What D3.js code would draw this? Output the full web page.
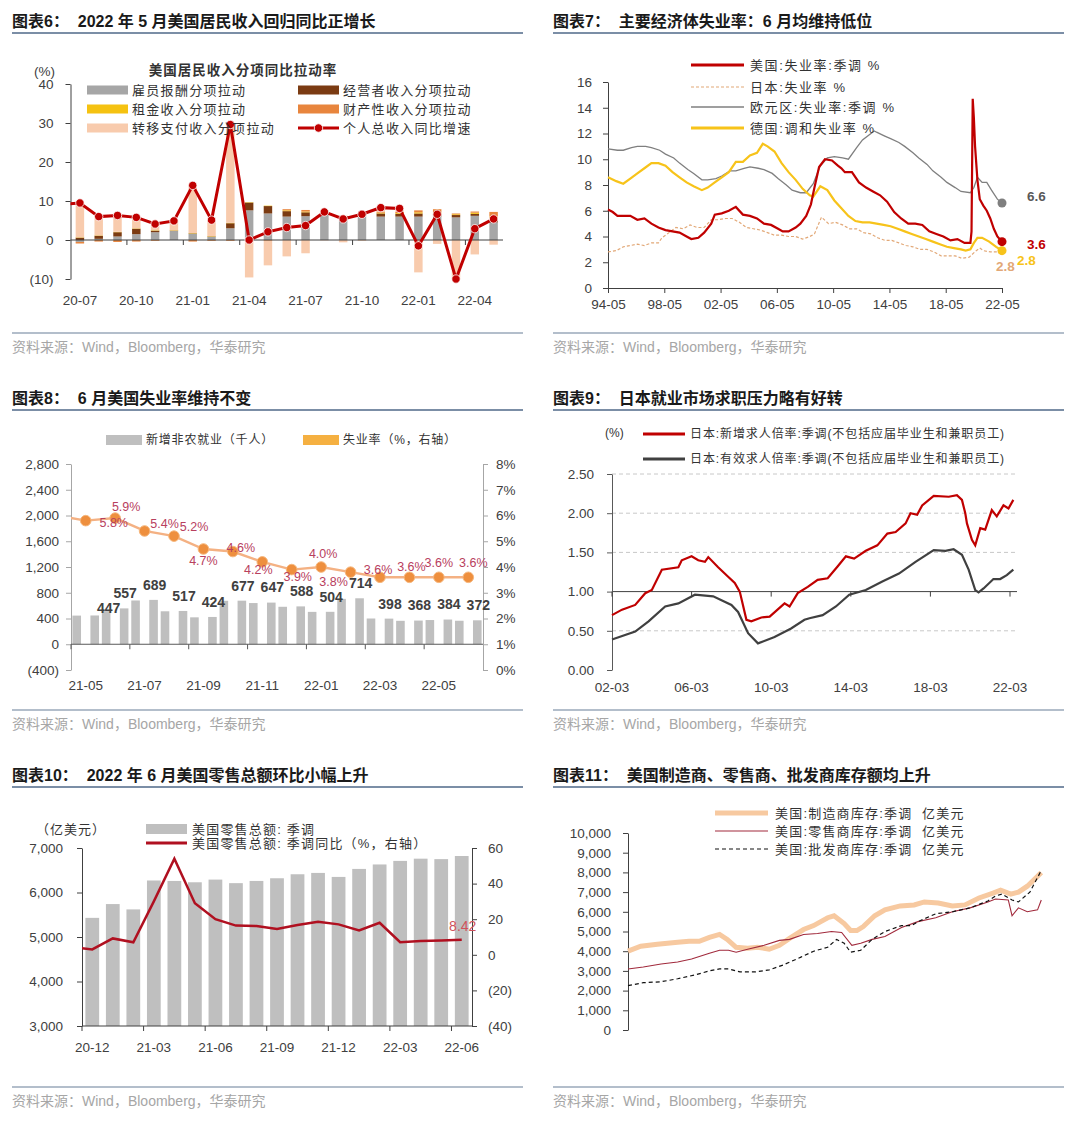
<!DOCTYPE html>
<html>
<head>
<meta charset="utf-8">
<title>华泰研究 图表6-11</title>
<script src="https://d3js.org/d3.v7.min.js"></script>
<style>
  body { margin: 0; background: #ffffff; }
  svg text { font-family: "Liberation Sans", Arial, "Noto Sans CJK SC", sans-serif; }
</style>
</head>
<body>
<svg id="page" width="1080" height="1123"></svg>
<script>
// ---------- 图表6 data ----------
var incMonths = ["20-07","20-08","20-09","20-10","20-11","20-12","21-01","21-02","21-03","21-04","21-05","21-06",
                 "21-07","21-08","21-09","21-10","21-11","21-12","22-01","22-02","22-03","22-04","22-05"];
var incComp     = [-0.5, 0.3, 0.9, 1.5, 2.0, 2.3, 1.6, 0.8, 3.0, 7.6, 6.8, 6.0, 6.1, 6.7, 5.7, 6.3, 6.0, 6.0, 6.0, 6.0, 5.8, 6.2, 4.5];
var incProp     = [0.6, 0.8, 1.1, 1.4, 0.4, 0.1, 0.1, 0.1, 1.3, 2.0, 1.9, 1.4, 1.0, 0.3, 0.3, 0.3, 0.8, 0.7, 0.8, 0.8, 0.6, 0.5, 1.0];
var incRent     = [0.1, 0.1, 0.1, 0.1, 0.1, 0.1, 0.1, 0.1, 0.1, 0.1, 0.1, 0.2, 0.2, 0.1, 0.1, 0.1, 0.2, 0.2, 0.3, 0.3, 0.2, 0.3, 0.5];
var incAsset    = [-0.4, -0.4, -0.5, -0.4, -0.2, 0.0, -0.4, -0.2, -0.2, -0.3, -0.2, 0.3, 0.4, 0.2, 0.1, 0.2, 0.3, 0.3, 0.5, 0.8, 0.2, 0.3, 1.2];
var incTransfer = [9.0, 4.8, 4.5, 3.1, 1.8, 2.4, 12.5, 4.3, 25.4, -9.3, -6.3, -4.2, -3.4, -0.1, -0.6, -0.2, 0.9, 0.8, -8.3, -1.0, -17.0, -3.7, -1.2];
var incTotal    = [9.5, 6.0, 6.3, 5.8, 4.1, 4.9, 14.0, 5.1, 29.6, 0.0, 2.1, 3.2, 3.7, 7.2, 5.4, 6.6, 8.3, 8.1, -1.5, 6.6, -10.0, 2.9, 5.4];
var incTotalLeadIn = 9.1;   // 20-06, only its segment into the chart is visible

// ---------- 图表7 data ----------
var usRate = [["1994-05",6.1],["1994-09",5.9],["1995-01",5.6],["1995-06",5.6],["1995-12",5.6],["1996-06",5.3],["1996-12",5.4],
  ["1997-06",5.0],["1997-12",4.7],["1998-06",4.5],["1998-12",4.4],["1999-06",4.3],["1999-12",4.0],["2000-04",3.8],["2000-10",3.9],
  ["2001-03",4.3],["2001-09",5.0],["2001-12",5.7],["2002-06",5.8],["2002-12",6.0],["2003-06",6.3],["2003-12",5.7],["2004-06",5.6],
  ["2004-12",5.4],["2005-06",5.0],["2005-12",4.9],["2006-06",4.6],["2006-10",4.4],["2007-03",4.4],["2007-09",4.7],["2008-01",5.0],
  ["2008-06",5.6],["2008-10",6.5],["2009-01",7.8],["2009-05",9.4],["2009-10",10.0],["2010-04",9.9],["2010-09",9.5],["2010-12",9.3],
  ["2011-03",9.0],["2011-09",9.0],["2012-03",8.2],["2012-09",7.8],["2013-03",7.5],["2013-09",7.2],["2014-03",6.7],["2014-09",5.9],
  ["2015-03",5.4],["2015-09",5.0],["2016-03",5.0],["2016-09",4.9],["2017-03",4.4],["2017-09",4.2],["2018-03",4.0],["2018-09",3.7],
  ["2019-03",3.8],["2019-09",3.5],["2020-02",3.5],["2020-03",4.4],["2020-04",14.7],["2020-05",13.2],["2020-06",11.0],["2020-08",8.4],
  ["2020-10",6.9],["2021-01",6.4],["2021-04",6.0],["2021-07",5.4],["2021-10",4.6],["2022-01",4.0],["2022-05",3.6]];
var jpRate = [["1994-05",2.8],["1994-12",2.9],["1995-06",3.2],["1995-12",3.3],["1996-06",3.4],["1996-12",3.3],["1997-06",3.5],
  ["1997-12",3.5],["1998-03",3.9],["1998-09",4.3],["1999-03",4.7],["1999-09",4.6],["2000-03",4.9],["2000-09",4.7],["2001-03",4.7],
  ["2001-09",5.3],["2002-03",5.3],["2002-09",5.4],["2003-03",5.4],["2003-09",5.1],["2004-03",4.7],["2004-09",4.6],["2005-03",4.5],
  ["2005-09",4.3],["2006-03",4.1],["2006-09",4.1],["2007-03",4.0],["2007-09",4.0],["2008-03",3.8],["2008-09",4.0],["2009-01",4.2],
  ["2009-07",5.5],["2010-01",5.0],["2010-07",5.1],["2011-01",4.9],["2011-07",4.6],["2012-01",4.6],["2012-07",4.3],["2013-01",4.2],
  ["2013-07",3.9],["2014-01",3.7],["2014-07",3.7],["2015-01",3.5],["2015-07",3.3],["2016-01",3.2],["2016-07",3.0],["2017-01",3.0],
  ["2017-07",2.8],["2018-01",2.5],["2018-07",2.5],["2019-01",2.5],["2019-07",2.3],["2020-01",2.4],["2020-07",2.9],["2020-10",3.1],
  ["2021-01",2.9],["2021-07",2.8],["2022-01",2.8],["2022-05",2.6]];
var euroRate = [["1994-05",10.8],["1995-01",10.7],["1995-06",10.7],["1996-01",10.9],["1996-06",11.0],["1997-01",11.0],["1997-06",10.9],
  ["1998-01",10.7],["1998-06",10.4],["1999-01",10.1],["1999-06",9.7],["2000-01",9.2],["2000-06",8.9],["2001-01",8.4],["2001-06",8.4],
  ["2002-01",8.5],["2002-06",8.7],["2003-01",9.1],["2003-06",9.1],["2004-01",9.3],["2004-06",9.4],["2005-01",9.3],["2005-06",9.2],
  ["2006-01",8.9],["2006-06",8.5],["2007-01",8.0],["2007-06",7.6],["2008-01",7.4],["2008-06",7.4],["2008-12",8.1],["2009-06",9.5],
  ["2009-12",10.1],["2010-06",10.2],["2011-01",10.1],["2011-06",10.0],["2012-01",10.9],["2012-06",11.5],["2013-04",12.2],["2013-06",12.1],
  ["2014-01",11.8],["2014-06",11.6],["2015-01",11.3],["2015-06",11.0],["2016-01",10.5],["2016-06",10.1],["2017-01",9.6],["2017-06",9.1],
  ["2018-01",8.6],["2018-06",8.2],["2019-01",7.8],["2019-06",7.5],["2020-02",7.4],["2020-05",7.8],["2020-08",8.6],["2020-12",8.2],
  ["2021-04",8.2],["2021-08",7.6],["2022-01",6.9],["2022-05",6.6]];
var deRate = [["1994-05",8.6],["1994-12",8.3],["1995-06",8.1],["1995-12",8.5],["1996-06",8.9],["1996-12",9.3],["1997-06",9.7],
  ["1997-12",9.7],["1998-06",9.5],["1998-12",9.0],["1999-06",8.6],["1999-12",8.2],["2000-06",7.9],["2001-01",7.6],["2001-06",7.8],
  ["2001-12",8.2],["2002-06",8.6],["2002-12",9.0],["2003-06",9.8],["2003-12",9.8],["2004-06",10.3],["2004-12",10.5],["2005-05",11.2],
  ["2005-09",11.0],["2006-03",10.6],["2006-09",9.7],["2007-03",9.0],["2007-09",8.4],["2008-03",7.7],["2008-09",7.2],["2008-12",7.1],
  ["2009-06",7.9],["2009-12",7.6],["2010-06",6.8],["2010-12",6.2],["2011-06",5.6],["2011-12",5.2],["2012-06",5.1],["2012-12",5.1],
  ["2013-06",5.0],["2013-12",4.9],["2014-06",4.8],["2014-12",4.6],["2015-06",4.4],["2015-12",4.2],["2016-06",4.0],["2016-12",3.8],
  ["2017-06",3.6],["2017-12",3.4],["2018-06",3.2],["2018-12",3.1],["2019-06",3.0],["2019-10",2.9],["2020-02",3.0],["2020-05",3.5],
  ["2020-08",3.9],["2020-12",3.9],["2021-06",3.6],["2021-12",3.2],["2022-05",2.9]];
var rateTicks = ["1994-05","1998-05","2002-05","2006-05","2010-05","2014-05","2018-05","2022-05"];

// ---------- 图表8 data ----------
var nfpMonths = ["21-05","21-06","21-07","21-08","21-09","21-10","21-11","21-12","22-01","22-02","22-03","22-04","22-05","22-06"];
var nfpPrior  = [445, 515, 680, 512, 418, 675, 640, 582, 503, 705, 400, 364, 376, 365];
var nfpLatest = [447, 557, 689, 517, 424, 677, 647, 588, 504, 714, 398, 368, 384, 372];
var unemp     = [5.8, 5.9, 5.4, 5.2, 4.7, 4.6, 4.2, 3.9, 4.0, 3.8, 3.6, 3.6, 3.6, 3.6];
var unempLeadIn = 6.0;   // 21-04

// ---------- 图表9 data ----------
var jpNewRatio = [["2002-03",0.70],["2002-09",0.77],["2003-05",0.83],["2003-11",0.98],["2004-03",1.02],["2004-09",1.28],["2005-07",1.31],
  ["2005-09",1.40],["2006-03",1.45],["2006-07",1.40],["2006-11",1.38],["2007-01",1.44],["2007-07",1.31],["2008-01",1.19],["2008-05",1.11],
  ["2008-08",1.00],["2008-12",0.64],["2009-03",0.62],["2009-09",0.67],["2010-02",0.68],["2010-11",0.85],["2011-02",0.81],["2011-07",0.98],
  ["2012-01",1.06],["2012-07",1.15],["2013-01",1.17],["2013-07",1.32],["2013-12",1.45],["2014-05",1.42],["2014-12",1.52],["2015-07",1.59],
  ["2016-01",1.74],["2016-06",1.76],["2016-12",1.87],["2017-03",2.00],["2017-07",1.98],["2017-10",2.10],["2018-05",2.22],["2019-02",2.21],
  ["2019-07",2.23],["2019-10",2.17],["2019-12",2.00],["2020-01",1.87],["2020-04",1.66],["2020-06",1.59],["2020-09",1.81],["2020-12",1.79],
  ["2021-04",2.04],["2021-07",1.96],["2021-11",2.10],["2022-02",2.06],["2022-05",2.17]];
var jpEffRatio = [["2002-03",0.39],["2003-05",0.49],["2004-01",0.62],["2004-11",0.81],["2005-07",0.85],["2006-05",0.96],["2007-04",0.94],
  ["2008-03",0.83],["2008-07",0.74],["2009-01",0.47],["2009-07",0.34],["2010-05",0.42],["2011-03",0.53],["2011-11",0.64],["2012-02",0.66],
  ["2012-10",0.70],["2013-06",0.81],["2014-02",0.96],["2014-12",1.02],["2015-10",1.13],["2016-08",1.23],["2017-06",1.38],["2018-05",1.53],
  ["2018-12",1.52],["2019-05",1.54],["2019-10",1.47],["2020-02",1.28],["2020-06",1.02],["2020-08",0.99],["2020-11",1.04],["2021-05",1.16],
  ["2021-09",1.16],["2022-01",1.21],["2022-05",1.28]];
var jpTicks = ["2002-03","2006-03","2010-03","2014-03","2018-03","2022-03"];

// ---------- 图表10 data ----------
var retailMonths = ["20-12","21-01","21-02","21-03","21-04","21-05","21-06","21-07","21-08","21-09","21-10","21-11","21-12",
                    "22-01","22-02","22-03","22-04","22-05","22-06"];
var retailSales = [5430, 5740, 5620, 6270, 6260, 6230, 6290, 6210, 6260, 6320, 6410, 6440, 6350, 6530, 6630, 6710, 6760, 6750, 6820];
var retailYoY   = [3.0, 9.2, 7.0, 30.0, 54.0, 29.0, 20.0, 16.4, 16.2, 14.5, 16.7, 18.6, 17.1, 13.7, 18.0, 7.1, 7.7, 8.1, 8.42];
var retailYoYLeadIn = 4.3;   // 20-11

// ---------- 图表11 data ----------
var invManu = [["1995-03",4000],["1996-01",4250],["1997-02",4350],["1998-06",4450],["1999-03",4500],["1999-11",4500],["2000-07",4700],
  ["2001-03",4850],["2001-09",4600],["2002-04",4200],["2003-01",4150],["2003-09",4200],["2004-06",4100],["2005-02",4300],["2005-10",4650],
  ["2006-09",5100],["2007-05",5300],["2008-04",5700],["2008-09",5800],["2009-05",5400],["2009-10",5050],["2010-03",5050],["2010-08",5250],
  ["2011-05",5800],["2012-01",6100],["2013-01",6300],["2013-12",6350],["2014-08",6500],["2015-07",6450],["2016-06",6300],["2017-04",6350],
  ["2018-03",6700],["2019-02",6950],["2019-08",7100],["2020-04",6900],["2020-10",7000],["2021-05",7300],["2022-01",7800],["2022-04",8000]];
var invRetail = [["1995-03",3100],["1996-03",3200],["1997-05",3350],["1998-06",3450],["1999-05",3600],["2000-07",3900],["2001-03",4050],
  ["2001-10",4050],["2002-04",3950],["2003-01",4100],["2004-02",4300],["2005-02",4550],["2005-10",4600],["2006-09",4850],["2007-08",4900],
  ["2008-07",5000],["2009-03",4950],["2009-11",4300],["2010-06",4400],["2011-03",4600],["2012-01",4750],["2013-02",5200],["2014-03",5500],
  ["2015-05",5700],["2016-06",6000],["2017-08",6200],["2018-10",6500],["2019-04",6650],["2020-02",6600],["2020-05",5800],["2020-10",6200],
  ["2021-05",6000],["2022-01",6100],["2022-04",6600]];
var invWhole = [["1995-03",2250],["1996-03",2400],["1997-05",2450],["1998-06",2600],["1999-08",2800],["2000-07",3000],["2001-03",3100],
  ["2001-10",3100],["2002-07",2950],["2003-07",2950],["2004-06",3050],["2005-05",3300],["2006-07",3700],["2007-05",4000],["2008-04",4200],
  ["2008-11",4600],["2009-05",4400],["2009-10",3950],["2010-06",4050],["2011-03",4600],["2012-01",5000],["2013-02",5300],["2013-10",5300],
  ["2014-03",5500],["2015-05",5900],["2016-06",6000],["2017-08",6200],["2018-10",6550],["2019-04",6800],["2019-09",6900],["2020-05",6600],
  ["2020-10",6500],["2021-07",7000],["2022-04",8100]];
var invTicks = ["1995-03","1998-03","2001-03","2004-03","2007-03","2010-03","2013-03","2016-03","2019-03","2022-03"];

// ---------- helpers ----------
var svg = d3.select("#page");
var CJK = "'Noto Sans CJK SC', sans-serif";
var parseYM = d3.timeParse("%Y-%m");
var fmtYM = d3.timeFormat("%y-%m");
var fmtComma = d3.format(",");
function paren(v) { return v < 0 ? "(" + fmtComma(-v) + ")" : fmtComma(v); }
function toSeries(arr) { return arr.map(function (d) { return {date: parseYM(d[0]), value: d[1]}; }); }

function frame(x0, y0, title) {
  svg.append("text").attr("x", x0).attr("y", y0 + 27).attr("font-size", 16).attr("font-weight", 700)
    .attr("fill", "#1a1a1a").style("white-space", "pre").attr("font-family", CJK).text(title);
  svg.append("line").attr("x1", x0).attr("x2", x0 + 511).attr("y1", y0 + 33).attr("y2", y0 + 33)
    .attr("stroke", "#7b8ea6").attr("stroke-width", 2);
  svg.append("line").attr("x1", x0).attr("x2", x0 + 511).attr("y1", y0 + 333).attr("y2", y0 + 333)
    .attr("stroke", "#9aa8ba").attr("stroke-width", 1.5);
  svg.append("text").attr("x", x0).attr("y", y0 + 352).attr("font-size", 14).attr("fill", "#a6a6a6")
    .attr("font-family", CJK).text("资料来源：Wind，Bloomberg，华泰研究");
}

function styleAxis(g, color) {
  g.attr("font-family", null).attr("font-size", null);
  g.select(".domain").attr("stroke", color);
  g.selectAll(".tick line").attr("stroke", color);
  g.selectAll(".tick text").attr("fill", "#404040").attr("font-size", 13.5);
}

function legendText(x, y, txt, size, spacing) {
  svg.append("text").attr("x", x).attr("y", y).attr("dy", "0.35em").attr("font-size", size || 13)
    .attr("letter-spacing", spacing || 1).attr("fill", "#333").attr("font-family", CJK)
    .style("white-space", "pre").text(txt);
}

function clipRect(id, x, y, w, h) {
  svg.append("clipPath").attr("id", id).append("rect").attr("x", x).attr("y", y).attr("width", w).attr("height", h);
  return "url(#" + id + ")";
}

// ================= 图表6 =================
frame(12, 0, "图表6：  2022 年 5 月美国居民收入回归同比正增长");
(function () {
  var x = d3.scaleBand().domain(incMonths).range([70.5, 503]).paddingInner(0.55).paddingOuter(0.275);
  var y = d3.scaleLinear().domain([-10, 40]).range([279, 84]);
  var step = x.step();
  var cx = function (m) { return x(m) + x.bandwidth() / 2; };

  var keys = ["comp", "prop", "rent", "asset", "transfer"];
  var colors = {comp: "#a6a6a6", prop: "#7b3b12", rent: "#f5c211", asset: "#e8853d", transfer: "#f8cbad"};
  var rows = incMonths.map(function (m, i) {
    return {month: m, comp: incComp[i], prop: incProp[i], rent: incRent[i], asset: incAsset[i], transfer: incTransfer[i]};
  });
  var stacked = d3.stack().keys(keys).offset(d3.stackOffsetDiverging)(rows);
  var clip = clipRect("clip6", 70.5, 84, 433, 195);

  var gb = svg.append("g").attr("clip-path", clip);
  stacked.forEach(function (layer) {
    gb.selectAll(null).data(layer).enter().append("rect")
      .attr("x", function (d) { return x(d.data.month); })
      .attr("width", x.bandwidth())
      .attr("y", function (d) { return y(Math.max(d[0], d[1])); })
      .attr("height", function (d) { return Math.abs(y(d[0]) - y(d[1])); })
      .attr("fill", colors[layer.key]);
  });

  // axes
  var ga = svg.append("g").attr("transform", "translate(70.5,0)")
    .call(d3.axisLeft(y).tickValues([-10, 0, 10, 20, 30, 40]).tickSize(5).tickSizeOuter(0).tickPadding(12).tickFormat(paren));
  styleAxis(ga, "#404040");
  svg.append("line").attr("x1", 70.5).attr("x2", 503).attr("y1", y(0)).attr("y2", y(0)).attr("stroke", "#404040");
  incMonths.forEach(function (m, i) {
    if (i % 3 !== 0) return;
    if (i > 0) svg.append("line").attr("x1", x(m) - (step - x.bandwidth()) / 2).attr("x2", x(m) - (step - x.bandwidth()) / 2)
      .attr("y1", y(0)).attr("y2", y(0) + 5).attr("stroke", "#404040");
    svg.append("text").attr("x", cx(m)).attr("y", 305).attr("text-anchor", "middle").attr("font-size", 13.5)
      .attr("fill", "#404040").text(m);
  });

  // total line
  var pts = [{x: cx(incMonths[0]) - step, v: incTotalLeadIn}].concat(incMonths.map(function (m, i) { return {x: cx(m), v: incTotal[i]}; }));
  svg.append("path").attr("clip-path", clip).datum(pts)
    .attr("d", d3.line().x(function (d) { return d.x; }).y(function (d) { return y(d.v); }))
    .attr("fill", "none").attr("stroke", "#c00000").attr("stroke-width", 3);
  svg.selectAll(null).data(pts.slice(1)).enter().append("circle")
    .attr("cx", function (d) { return d.x; }).attr("cy", function (d) { return y(d.v); })
    .attr("r", 4.2).attr("fill", "#c00000").attr("stroke", "#fff").attr("stroke-width", 0.8);

  // legend
  svg.append("text").attr("x", 243).attr("y", 75).attr("text-anchor", "middle").attr("font-size", 13.5)
    .attr("font-weight", 700).attr("letter-spacing", 1).attr("fill", "#333").attr("font-family", CJK).text("美国居民收入分项同比拉动率");
  svg.append("text").attr("x", 34).attr("y", 76).attr("font-size", 13.5).attr("fill", "#404040").text("(%)");
  var leg = [
    {k: "comp", t: "雇员报酬分项拉动", x: 87, y: 90}, {k: "prop", t: "经营者收入分项拉动", x: 298, y: 90},
    {k: "rent", t: "租金收入分项拉动", x: 87, y: 109}, {k: "asset", t: "财产性收入分项拉动", x: 298, y: 109},
    {k: "transfer", t: "转移支付收入分项拉动", x: 87, y: 128}
  ];
  leg.forEach(function (d) {
    svg.append("rect").attr("x", d.x).attr("y", d.y - 4.5).attr("width", 41).attr("height", 9).attr("fill", colors[d.k]);
    legendText(d.x + 45, d.y, d.t, 13, 1.3);
  });
  svg.append("line").attr("x1", 298).attr("x2", 339).attr("y1", 128).attr("y2", 128).attr("stroke", "#c00000").attr("stroke-width", 3);
  svg.append("circle").attr("cx", 318.5).attr("cy", 128).attr("r", 4.2).attr("fill", "#c00000").attr("stroke", "#fff").attr("stroke-width", 0.8);
  legendText(343, 128, "个人总收入同比增速", 13, 1.3);
})();

// ================= 图表7 =================
frame(553, 0, "图表7：  主要经济体失业率：6 月均维持低位");
(function () {
  var x = d3.scaleTime().domain([parseYM("1994-05"), parseYM("2022-05")]).range([608, 1002]);
  var y = d3.scaleLinear().domain([0, 16]).range([288, 82]);
  var line = d3.line().x(function (d) { return x(d.date); }).y(function (d) { return y(d.value); });

  var ga = svg.append("g").attr("transform", "translate(608,0)")
    .call(d3.axisLeft(y).tickValues(d3.range(0, 17, 2)).tickSize(5).tickSizeOuter(0).tickPadding(11));
  styleAxis(ga, "#404040");
  var gx = svg.append("g").attr("transform", "translate(0,288)")
    .call(d3.axisBottom(x).tickValues(rateTicks.map(parseYM)).tickFormat(fmtYM).tickSize(5).tickSizeOuter(0).tickPadding(6));
  styleAxis(gx, "#404040");

  var jp = toSeries(jpRate), eu = toSeries(euroRate), de = toSeries(deRate), us = toSeries(usRate);
  svg.append("path").datum(jp).attr("d", line).attr("fill", "none").attr("stroke", "#e2a877").attr("stroke-width", 1.2).attr("stroke-dasharray", "3,2");
  svg.append("path").datum(eu).attr("d", line).attr("fill", "none").attr("stroke", "#7f7f7f").attr("stroke-width", 1.3);
  svg.append("path").datum(de).attr("d", line).attr("fill", "none").attr("stroke", "#f7c31a").attr("stroke-width", 2.2);
  svg.append("path").datum(us).attr("d", line).attr("fill", "none").attr("stroke", "#c00000").attr("stroke-width", 2.2);

  var ends = [
    {s: eu, c: "#7f7f7f", lx: 1027, ly: 196, t: "6.6"},
    {s: us, c: "#c00000", lx: 1027, ly: 244, t: "3.6"},
    {s: de, c: "#f7c31a", lx: null}
  ];
  ends.forEach(function (e) {
    var last = e.s[e.s.length - 1];
    svg.append("circle").attr("cx", x(last.date)).attr("cy", y(last.value)).attr("r", 4.5).attr("fill", e.c);
    if (e.lx) svg.append("text").attr("x", e.lx).attr("y", e.ly).attr("dy", "0.35em").attr("font-size", 13.5)
      .attr("font-weight", 700).attr("fill", e.c === "#7f7f7f" ? "#595959" : e.c).text(e.t);
  });
  svg.append("text").attr("x", 996).attr("y", 266).attr("dy", "0.35em").attr("font-size", 13.5).attr("font-weight", 700).attr("fill", "#e2a877").text("2.8");
  svg.append("text").attr("x", 1017).attr("y", 260).attr("dy", "0.35em").attr("font-size", 13.5).attr("font-weight", 700).attr("fill", "#f7c31a").text("2.8");

  var leg = [
    {t: "美国:失业率:季调 %", c: "#c00000", w: 3, dash: null, y: 65},
    {t: "日本:失业率 %", c: "#e2a877", w: 1.2, dash: "3,2", y: 87},
    {t: "欧元区:失业率:季调 %", c: "#7f7f7f", w: 1.3, dash: null, y: 107},
    {t: "德国:调和失业率 %", c: "#f7c31a", w: 3, dash: null, y: 128}
  ];
  leg.forEach(function (d) {
    svg.append("line").attr("x1", 691).attr("x2", 744).attr("y1", d.y).attr("y2", d.y).attr("stroke", d.c)
      .attr("stroke-width", d.w).attr("stroke-dasharray", d.dash);
    legendText(750, d.y, d.t, 13, 1.6);
  });
})();

// ================= 图表8 =================
frame(12, 377, "图表8：  6 月美国失业率维持不变");
(function () {
  var x = d3.scaleBand().domain(nfpMonths).range([71, 483]);
  var step = x.step();
  var cx = function (m) { return x(m) + step / 2; };
  var yL = d3.scaleLinear().domain([-400, 2800]).range([670, 464]);
  var yR = d3.scaleLinear().domain([0, 0.08]).range([670, 464]);
  var bw = 8.6, off = 9;

  var gl = svg.append("g").attr("transform", "translate(71,0)")
    .call(d3.axisLeft(yL).tickValues(d3.range(-400, 2801, 400)).tickSize(5).tickSizeOuter(0).tickPadding(7).tickFormat(paren));
  styleAxis(gl, "#a6a6a6");
  var gr = svg.append("g").attr("transform", "translate(483,0)")
    .call(d3.axisRight(yR).tickValues(d3.range(0, 0.081, 0.01)).tickSize(5).tickSizeOuter(0).tickPadding(8).tickFormat(d3.format(".0%")));
  styleAxis(gr, "#a6a6a6");

  svg.selectAll(null).data(nfpMonths).enter().append("rect")
    .attr("x", function (m) { return cx(m) - off - bw / 2; }).attr("width", bw)
    .attr("y", function (m, i) { return yL(nfpPrior[i]); })
    .attr("height", function (m, i) { return yL(0) - yL(nfpPrior[i]); }).attr("fill", "#bfbfbf");
  svg.selectAll(null).data(nfpMonths).enter().append("rect")
    .attr("x", function (m) { return cx(m) + off - bw / 2; }).attr("width", bw)
    .attr("y", function (m, i) { return yL(nfpLatest[i]); })
    .attr("height", function (m, i) { return yL(0) - yL(nfpLatest[i]); }).attr("fill", "#bfbfbf");

  svg.append("line").attr("x1", 71).attr("x2", 483).attr("y1", yL(0)).attr("y2", yL(0)).attr("stroke", "#595959");
  nfpMonths.forEach(function (m, i) {
    if (i % 2 !== 0) return;
    svg.append("line").attr("x1", x(m)).attr("x2", x(m)).attr("y1", yL(0)).attr("y2", yL(0) + 5).attr("stroke", "#595959");
    svg.append("text").attr("x", cx(m)).attr("y", 690).attr("text-anchor", "middle").attr("font-size", 13.5).attr("fill", "#404040").text(m);
  });

  // unemployment line
  var clip = clipRect("clip8", 71, 464, 412, 206);
  var pts = [{x: cx(nfpMonths[0]) - step, v: unempLeadIn}].concat(nfpMonths.map(function (m, i) { return {x: cx(m), v: unemp[i]}; }));
  svg.append("path").attr("clip-path", clip).datum(pts)
    .attr("d", d3.line().x(function (d) { return d.x; }).y(function (d) { return yR(d.v / 100); }))
    .attr("fill", "none").attr("stroke", "#f4b183").attr("stroke-width", 2.4);
  svg.selectAll(null).data(pts.slice(1)).enter().append("circle")
    .attr("cx", function (d) { return d.x; }).attr("cy", function (d) { return yR(d.v / 100); })
    .attr("r", 5.3).attr("fill", "#ee8f3e").attr("stroke", "#f6b77d").attr("stroke-width", 1);

  // labels (offsets keep the crowded 21-11 .. 22-02 labels apart)
  var pctOff = [[28, 2], [11, -11], [20, -7], [20, -9], [0, 12], [8, -4], [-4, 8], [6, 7], [2, -13], [-17, 9], [-2, -8], [2, -11], [0, -15], [5, -15]];
  nfpMonths.forEach(function (m, i) {
    svg.append("text").attr("x", cx(m) + pctOff[i][0]).attr("y", yR(unemp[i] / 100) + pctOff[i][1]).attr("dy", "0.35em")
      .attr("text-anchor", "middle").attr("font-size", 12.5).attr("fill", "#b8405e").text(unemp[i].toFixed(1) + "%");
  });
  nfpMonths.forEach(function (m, i) {
    var dx = i === 0 ? 23 : 10, dy = i === 0 ? -7 : -15;
    svg.append("text").attr("x", cx(m) + dx).attr("y", yL(nfpLatest[i]) + dy).attr("dy", "0.35em")
      .attr("text-anchor", "middle").attr("font-size", 14).attr("font-weight", 700).attr("fill", "#404040").text(nfpLatest[i]);
  });

  // legend
  svg.append("rect").attr("x", 106).attr("y", 435).attr("width", 36).attr("height", 10).attr("fill", "#bfbfbf");
  legendText(146, 440, "新增非农就业（千人）", 12, 0.8);
  svg.append("rect").attr("x", 303).attr("y", 435).attr("width", 36).attr("height", 10).attr("fill", "#f5b041");
  legendText(343, 440, "失业率（%，右轴）", 12, 0.8);
})();

// ================= 图表9 =================
frame(553, 377, "图表9：  日本就业市场求职压力略有好转");
(function () {
  var x = d3.scaleTime().domain([parseYM("2002-03"), parseYM("2022-03")]).range([612, 1010]);
  var y = d3.scaleLinear().domain([0, 2.5]).range([670, 474]);
  var line = d3.line().x(function (d) { return x(d.date); }).y(function (d) { return y(d.value); });

  [0.5, 1.5, 2.0, 2.5].forEach(function (v) {
    svg.append("line").attr("x1", 612).attr("x2", 1017).attr("y1", y(v)).attr("y2", y(v))
      .attr("stroke", "#c8c8c8").attr("stroke-dasharray", "4,3");
  });
  svg.append("line").attr("x1", 612).attr("x2", 1017).attr("y1", y(1)).attr("y2", y(1)).attr("stroke", "#404040");
  var ga = svg.append("g").attr("transform", "translate(612,0)")
    .call(d3.axisLeft(y).tickValues([0, 0.5, 1, 1.5, 2, 2.5]).tickSize(5).tickSizeOuter(0).tickPadding(13).tickFormat(d3.format(".2f")));
  styleAxis(ga, "#595959");
  jpTicks.forEach(function (t) {
    var xx = x(parseYM(t));
    svg.append("line").attr("x1", xx).attr("x2", xx).attr("y1", y(1)).attr("y2", y(1) + 5).attr("stroke", "#404040");
    svg.append("text").attr("x", xx).attr("y", 692).attr("text-anchor", "middle").attr("font-size", 13.5).attr("fill", "#404040").text(fmtYM(parseYM(t)));
  });

  svg.append("path").datum(toSeries(jpEffRatio)).attr("d", line).attr("fill", "none").attr("stroke", "#404040").attr("stroke-width", 2.2);
  svg.append("path").datum(toSeries(jpNewRatio)).attr("d", line).attr("fill", "none").attr("stroke", "#c00000").attr("stroke-width", 2.2);

  svg.append("text").attr("x", 605).attr("y", 433).attr("dy", "0.35em").attr("font-size", 12).attr("fill", "#333").text("(%)");
  svg.append("line").attr("x1", 643).attr("x2", 685).attr("y1", 434).attr("y2", 434).attr("stroke", "#c00000").attr("stroke-width", 3);
  legendText(690, 434, "日本:新增求人倍率:季调(不包括应届毕业生和兼职员工)", 12, 0.9);
  svg.append("line").attr("x1", 643).attr("x2", 685).attr("y1", 459).attr("y2", 459).attr("stroke", "#404040").attr("stroke-width", 3);
  legendText(690, 459, "日本:有效求人倍率:季调(不包括应届毕业生和兼职员工)", 12, 0.9);
})();

// ================= 图表10 =================
frame(12, 754, "图表10：  2022 年 6 月美国零售总额环比小幅上升");
(function () {
  var x = d3.scaleBand().domain(retailMonths).range([82, 472]).paddingInner(0.33).paddingOuter(0.165);
  var step = x.step();
  var cx = function (m) { return x(m) + x.bandwidth() / 2; };
  var yL = d3.scaleLinear().domain([3000, 7000]).range([1026, 848]);
  var yR = d3.scaleLinear().domain([-40, 60]).range([1026, 848]);

  svg.selectAll(null).data(retailMonths).enter().append("rect")
    .attr("x", function (m) { return x(m); }).attr("width", x.bandwidth())
    .attr("y", function (m, i) { return yL(retailSales[i]); })
    .attr("height", function (m, i) { return yL(3000) - yL(retailSales[i]); }).attr("fill", "#bfbfbf");

  var gl = svg.append("g").attr("transform", "translate(82,0)")
    .call(d3.axisLeft(yL).tickValues(d3.range(3000, 7001, 1000)).tickSize(5).tickSizeOuter(0).tickPadding(14).tickFormat(fmtComma));
  styleAxis(gl, "#404040");
  var gr = svg.append("g").attr("transform", "translate(472,0)")
    .call(d3.axisRight(yR).tickValues(d3.range(-40, 61, 20)).tickSize(5).tickSizeOuter(0).tickPadding(11).tickFormat(paren));
  styleAxis(gr, "#404040");
  svg.append("line").attr("x1", 82).attr("x2", 472).attr("y1", 1026).attr("y2", 1026).attr("stroke", "#404040");
  retailMonths.forEach(function (m, i) {
    if (i % 3 !== 0) return;
    var bx = x(m) - (step - x.bandwidth()) / 2;
    svg.append("line").attr("x1", bx).attr("x2", bx).attr("y1", 1026).attr("y2", 1031).attr("stroke", "#404040");
    svg.append("text").attr("x", cx(m)).attr("y", 1052).attr("text-anchor", "middle").attr("font-size", 13.5).attr("fill", "#404040").text(m);
  });

  var clip = clipRect("clip10", 82, 848, 390, 178);
  var pts = [{x: cx(retailMonths[0]) - step, v: retailYoYLeadIn}].concat(retailMonths.map(function (m, i) { return {x: cx(m), v: retailYoY[i]}; }));
  svg.append("path").attr("clip-path", clip).datum(pts)
    .attr("d", d3.line().x(function (d) { return d.x; }).y(function (d) { return yR(d.v); }))
    .attr("fill", "none").attr("stroke", "#b01020").attr("stroke-width", 2.5);
  var last = pts[pts.length - 1];
  svg.append("text").attr("x", last.x + 1).attr("y", yR(last.v) - 14).attr("dy", "0.35em").attr("text-anchor", "middle")
    .attr("font-size", 14).attr("fill", "#d0525a").text(retailYoY[retailYoY.length - 1]);

  svg.append("text").attr("x", 36).attr("y", 829).attr("dy", "0.35em").attr("font-size", 13).attr("letter-spacing", 1)
    .attr("fill", "#333").attr("font-family", CJK).text("（亿美元）");
  svg.append("rect").attr("x", 146).attr("y", 824).attr("width", 41).attr("height", 10).attr("fill", "#bfbfbf");
  legendText(192, 829, "美国零售总额: 季调", 13, 1.2);
  svg.append("line").attr("x1", 146).attr("x2", 187).attr("y1", 843).attr("y2", 843).attr("stroke", "#b01020").attr("stroke-width", 3);
  legendText(192, 843, "美国零售总额: 季调同比（%，右轴）", 13, 1.2);
})();

// ================= 图表11 =================
frame(553, 754, "图表11：  美国制造商、零售商、批发商库存额均上升");
(function () {
  var x = d3.scaleTime().domain([parseYM("1995-03"), parseYM("2022-03")]).range([628, 1040]);
  var y = d3.scaleLinear().domain([0, 10000]).range([1030, 833]);
  var line = d3.line().x(function (d) { return x(d.date); }).y(function (d) { return y(d.value); });

  var ga = svg.append("g").attr("transform", "translate(628,0)")
    .call(d3.axisLeft(y).tickValues(d3.range(0, 10001, 1000)).tickSize(5).tickSizeOuter(0).tickPadding(12).tickFormat(fmtComma));
  styleAxis(ga, "#404040");
  var clipX = clipRect("clip11x", 560, 1030, 492, 40);
  var gx = svg.append("g").attr("transform", "translate(0,1030)").attr("clip-path", clipX)
    .call(d3.axisBottom(x).tickValues(invTicks.map(parseYM)).tickFormat(fmtYM).tickSize(5).tickSizeOuter(0).tickPadding(6));
  styleAxis(gx, "#404040");

  svg.append("path").datum(toSeries(invManu)).attr("d", line).attr("fill", "none").attr("stroke", "#f7c9a0").attr("stroke-width", 5);
  svg.append("path").datum(toSeries(invRetail)).attr("d", line).attr("fill", "none").attr("stroke", "#a12a3c").attr("stroke-width", 1.1);
  svg.append("path").datum(toSeries(invWhole)).attr("d", line).attr("fill", "none").attr("stroke", "#111").attr("stroke-width", 1.2).attr("stroke-dasharray", "4,3");

  var leg = [
    {t: "美国:制造商库存:季调  亿美元", c: "#f7c9a0", w: 5, dash: null, y: 813},
    {t: "美国:零售商库存:季调  亿美元", c: "#a12a3c", w: 1.1, dash: null, y: 831},
    {t: "美国:批发商库存:季调  亿美元", c: "#111", w: 1.2, dash: "4,3", y: 849}
  ];
  leg.forEach(function (d) {
    svg.append("line").attr("x1", 715).attr("x2", 768).attr("y1", d.y).attr("y2", d.y).attr("stroke", d.c)
      .attr("stroke-width", d.w).attr("stroke-dasharray", d.dash);
    legendText(775, d.y, d.t, 13, 1.2);
  });
})();
</script>
</body>
</html>
